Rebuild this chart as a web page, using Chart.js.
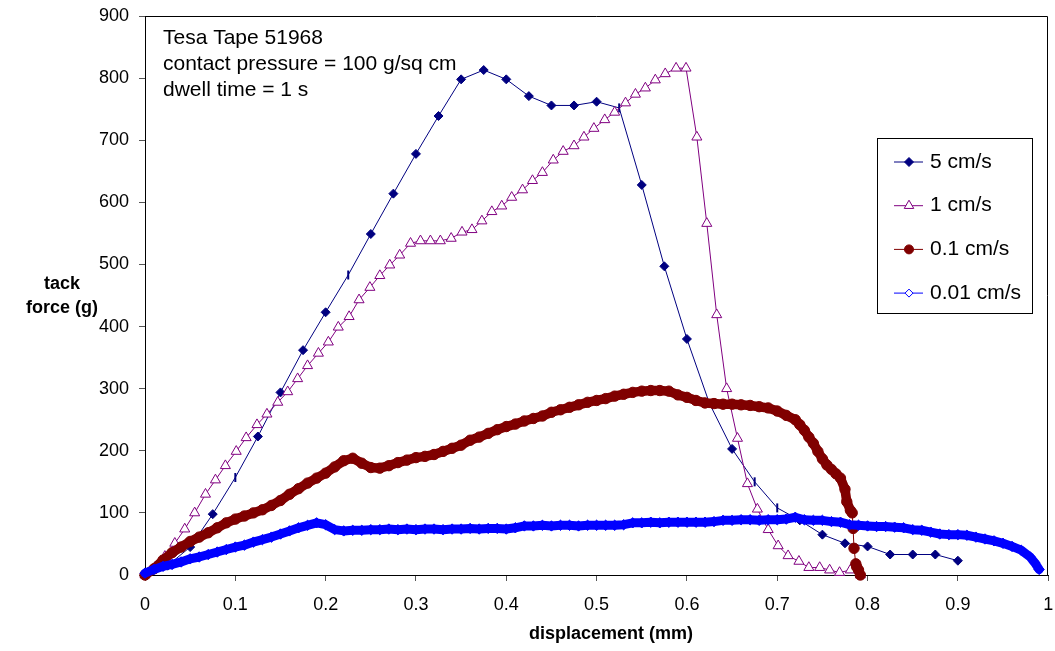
<!DOCTYPE html>
<html>
<head>
<meta charset="utf-8">
<title>Tesa Tape 51968 - tack force</title>
<script src="https://cdn.jsdelivr.net/npm/chart.js@4/dist/chart.umd.min.js"></script>
<style>
  html, body { margin: 0; padding: 0; background: #fff; }
  #wrap { width: 1055px; height: 651px; }
</style>
</head>
<body>
<div id="wrap"><canvas id="chart" width="1055" height="651"></canvas></div>
<script>
// ---- data ----
const xTickLabels = ['0', '0.1', '0.2', '0.3', '0.4', '0.5', '0.6', '0.7', '0.8', '0.9', '1'];
const yTickLabels = ['0', '100', '200', '300', '400', '500', '600', '700', '800', '900'];
const seriesNames = ['5 cm/s', '1 cm/s', '0.1 cm/s', '0.01 cm/s'];
const noteLines = ['Tesa Tape 51968', 'contact pressure = 100 g/sq cm', 'dwell time = 1 s'];
const xTitle = 'displacement (mm)';
const yTitle = ['tack', 'force (g)'];

// 5 cm/s
const fastX = [0, 0.025, 0.05, 0.075, 0.1, 0.125, 0.15, 0.175, 0.2, 0.225, 0.25, 0.275, 0.3, 0.325, 0.35, 0.375, 0.4, 0.425, 0.45, 0.475,
  0.5, 0.525, 0.55, 0.575, 0.6, 0.625, 0.65, 0.675, 0.7, 0.725, 0.75, 0.775, 0.8, 0.825, 0.85, 0.875, 0.9];
const fastY = [0, 15, 45, 98, 157, 223, 294, 362, 423, 483, 549, 614, 678, 739, 798, 813, 798, 771, 756, 756,
  762, 752, 628, 497, 380, 276, 203, 150, 108, 88, 65, 51, 46, 33, 33, 33, 23];
const fastBarIdx = [4, 9, 21, 27, 28]; // points drawn as a short vertical bar in the original

// 1 cm/s
const midX = [0, 0.011, 0.022, 0.033, 0.044, 0.055, 0.067, 0.078, 0.089, 0.101, 0.112, 0.124, 0.135, 0.147, 0.158, 0.169, 0.180, 0.192, 0.203, 0.214,
  0.226, 0.237, 0.249, 0.260, 0.271, 0.282, 0.294, 0.305, 0.316, 0.327, 0.339, 0.351, 0.362, 0.373, 0.384, 0.395, 0.406, 0.418, 0.429, 0.440,
  0.452, 0.463, 0.475, 0.486, 0.497, 0.509, 0.520, 0.532, 0.543, 0.554, 0.565, 0.576, 0.588, 0.599, 0.611, 0.622, 0.633, 0.644, 0.656, 0.667,
  0.678, 0.690, 0.701, 0.712, 0.724, 0.735, 0.747, 0.758, 0.769, 0.781, 0.792];
const midY = [0, 12, 30, 51, 74, 100, 130, 153, 176, 199, 221, 242, 259, 278, 295, 316, 337, 357, 375, 399,
  416, 443, 463, 482, 499, 515, 534, 538, 538, 538, 542, 552, 556, 570, 585, 594, 608, 620, 635, 648,
  668, 682, 691, 705, 719, 733, 745, 760, 774, 784, 797, 807, 816, 816, 705, 566, 419, 300, 220, 147,
  106, 73, 47, 31, 22, 12, 12, 8, 4, 8, 0];

// 0.1 cm/s
const slowX = [0, 0.01, 0.02, 0.03, 0.04, 0.05, 0.06, 0.07, 0.08, 0.09, 0.1, 0.11, 0.12, 0.13, 0.14, 0.15, 0.16, 0.17, 0.18, 0.19,
  0.2, 0.21, 0.22, 0.23, 0.24, 0.25, 0.26, 0.27, 0.28, 0.29, 0.3, 0.31, 0.32, 0.33, 0.34, 0.35, 0.36, 0.37, 0.38, 0.39,
  0.4, 0.41, 0.42, 0.43, 0.44, 0.45, 0.46, 0.47, 0.48, 0.49, 0.5, 0.51, 0.52, 0.53, 0.54, 0.55, 0.56, 0.57, 0.58, 0.59,
  0.6, 0.61, 0.62, 0.63, 0.64, 0.65, 0.66, 0.67, 0.68, 0.69, 0.7, 0.71, 0.72,
  0.725, 0.73, 0.735, 0.74, 0.745, 0.75, 0.755, 0.76, 0.765, 0.77,
  0.775, 0.777, 0.781, 0.783, 0.784, 0.785, 0.787, 0.788, 0.79, 0.792];
const slowY = [0, 10, 24, 36, 45, 54, 61, 68, 76, 84, 90, 95, 100, 105, 112, 120, 130, 139, 148, 156,
  164, 174, 184, 188, 180, 173, 172, 176, 181, 185, 189, 191, 194, 199, 204, 209, 217, 222, 228, 234,
  239, 243, 248, 252, 256, 262, 266, 270, 274, 278, 281, 284, 288, 291, 294, 296, 297, 297, 296, 290,
  286, 281, 277, 276, 275, 275, 274, 273, 271, 269, 264, 257, 250,
  242, 233, 222, 212, 199, 187, 177, 170, 163, 156,
  138, 118, 104, 100, 75, 43, 18, 13, 8, 0];

// 0.01 cm/s
const crawlX = [0, 0.01, 0.02, 0.03, 0.04, 0.05, 0.06, 0.07, 0.08, 0.09, 0.1, 0.11, 0.12, 0.13, 0.14, 0.15, 0.16, 0.17, 0.18, 0.19,
  0.2, 0.21, 0.22, 0.23, 0.24, 0.25, 0.26, 0.27, 0.28, 0.29, 0.3, 0.31, 0.32, 0.33, 0.34, 0.35, 0.36, 0.37, 0.38, 0.39,
  0.4, 0.41, 0.42, 0.43, 0.44, 0.45, 0.46, 0.47, 0.48, 0.49, 0.5, 0.51, 0.52, 0.53, 0.54, 0.55, 0.56, 0.57, 0.58, 0.59,
  0.6, 0.61, 0.62, 0.63, 0.64, 0.65, 0.66, 0.67, 0.68, 0.69, 0.7, 0.71, 0.72, 0.73, 0.74, 0.75, 0.76, 0.77, 0.78, 0.79,
  0.8, 0.81, 0.82, 0.83, 0.84, 0.85, 0.86, 0.87, 0.88, 0.89, 0.9, 0.91, 0.92, 0.93, 0.94, 0.95, 0.96, 0.97, 0.98, 0.985, 0.99];
const crawlY = [3, 9, 14, 17, 21, 26, 29, 33, 37, 41, 45, 48, 53, 57, 61, 66, 71, 76, 80, 84,
  81, 73, 71, 72, 72, 73, 73, 74, 73, 74, 73, 74, 74, 73, 74, 74, 75, 74, 75, 75,
  74, 76, 79, 79, 80, 79, 80, 80, 79, 80, 80, 80, 80, 81, 84, 84, 85, 84, 85, 85,
  85, 85, 85, 86, 88, 88, 89, 89, 88, 89, 89, 90, 93, 89, 88, 88, 86, 85, 81, 80,
  79, 78, 78, 77, 76, 73, 72, 69, 66, 65, 65, 64, 61, 58, 55, 51, 46, 40, 29, 20, 9];

// ---- helpers ----
const FONT = '"Liberation Sans", Arial, Helvetica, sans-serif';
const pts = (xs, ys) => xs.map((x, i) => ({ x: x, y: ys[i] }));
// where points sit close together the markers merge into a band, mimic that with a fat segment
const bandWidth = w => ctx => Math.hypot(ctx.p1.x - ctx.p0.x, ctx.p1.y - ctx.p0.y) < 15 ? w : 1;

function marker(c, style, x, y, r, fill, stroke) {
  c.beginPath();
  if (style === 'rectRot') {
    c.moveTo(x, y - r); c.lineTo(x + r, y); c.lineTo(x, y + r); c.lineTo(x - r, y); c.closePath();
  } else if (style === 'triangle') {
    for (let k = 0; k < 3; k++) {
      const a = k * 2 * Math.PI / 3;
      const px = x + Math.sin(a) * r, py = y - Math.cos(a) * r;
      k ? c.lineTo(px, py) : c.moveTo(px, py);
    }
    c.closePath();
  } else {
    c.arc(x, y, r, 0, Math.PI * 2);
  }
  c.fillStyle = fill; c.fill();
  c.lineWidth = 1; c.strokeStyle = stroke; c.stroke();
}

const legendStyles = [
  { style: 'rectRot', r: 4.5, fill: '#000080', stroke: '#000080' },
  { style: 'triangle', r: 5.5, fill: '#fff', stroke: '#800080' },
  { style: 'circle', r: 4.5, fill: '#800000', stroke: '#800000' },
  { style: 'rectRot', r: 4, fill: '#fff', stroke: '#0000ff' }
];

const decor = {
  id: 'decor',
  afterDraw(chart) {
    const c = chart.ctx, a = chart.chartArea;
    c.save();
    // plot box, top and right edges
    c.strokeStyle = '#000'; c.lineWidth = 1;
    c.beginPath();
    c.moveTo(a.left, a.top + 0.5);
    c.lineTo(Math.round(a.right) - 0.5, a.top + 0.5);
    c.lineTo(Math.round(a.right) - 0.5, a.bottom);
    c.stroke();

    c.fillStyle = '#000';
    c.textBaseline = 'middle';

    // note in the top left
    c.font = '21px ' + FONT;
    c.textAlign = 'left';
    noteLines.forEach((t, i) => c.fillText(t, 163, 38 + i * 26));

    // axis titles
    c.font = 'bold 18px ' + FONT;
    c.textAlign = 'center';
    c.fillText(yTitle[0], 62, 284);
    c.fillText(yTitle[1], 62, 308);
    c.fillText(xTitle, 611, 634);

    // legend
    const lx = 877.5, ly = 138.5, lw = 155, lh = 175;
    c.fillStyle = '#fff';
    c.fillRect(lx, ly, lw, lh);
    c.strokeStyle = '#000';
    c.strokeRect(lx, ly, lw, lh);
    chart.data.datasets.forEach((ds, i) => {
      const y = 162 + i * 43.7;
      const s = legendStyles[i];
      c.strokeStyle = ds.borderColor; c.lineWidth = 1;
      c.beginPath(); c.moveTo(894, y); c.lineTo(923, y); c.stroke();
      marker(c, s.style, 909, y, s.r, s.fill, s.stroke);
      c.fillStyle = '#000';
      c.font = '21px ' + FONT;
      c.textAlign = 'left';
      c.fillText(ds.label, 930, y);
    });
    c.restore();
  }
};

const tickFont = { family: FONT, size: 18 };

new Chart(document.getElementById('chart'), {
  type: 'scatter',
  data: {
    datasets: [
      {
        label: seriesNames[0], data: pts(fastX, fastY), showLine: true, order: 4, clip: false,
        borderColor: '#000080', backgroundColor: '#000080', borderWidth: 1,
        pointStyle: ctx => fastBarIdx.includes(ctx.dataIndex) ? 'line' : 'rectRot',
        rotation: ctx => fastBarIdx.includes(ctx.dataIndex) ? 90 : 0,
        pointBorderWidth: ctx => fastBarIdx.includes(ctx.dataIndex) ? 2 : 1,
        pointRadius: 4.5
      },
      {
        label: seriesNames[1], data: pts(midX, midY), showLine: true, order: 3, clip: false,
        borderColor: '#800080', backgroundColor: '#800080', borderWidth: 1,
        pointStyle: 'triangle', pointRadius: 5.8,
        pointBackgroundColor: '#fff', pointBorderColor: '#800080', pointBorderWidth: 1
      },
      {
        label: seriesNames[2], data: pts(slowX, slowY), showLine: true, order: 2, clip: false,
        borderColor: '#800000', backgroundColor: '#800000', borderWidth: 1,
        borderCapStyle: 'round', borderJoinStyle: 'round',
        segment: { borderWidth: bandWidth(9.5) },
        pointStyle: 'circle', pointRadius: 5.2, pointBorderWidth: 1
      },
      {
        label: seriesNames[3], data: pts(crawlX, crawlY), showLine: true, order: 1, clip: false,
        borderColor: '#0000ff', backgroundColor: '#0000ff', borderWidth: 1,
        borderCapStyle: 'round', borderJoinStyle: 'round',
        segment: { borderWidth: bandWidth(9) },
        pointStyle: 'rectRot', pointRadius: 5.2, pointBorderWidth: 1
      }
    ]
  },
  options: {
    responsive: false,
    animation: false,
    devicePixelRatio: 1,
    layout: { padding: { top: 16, right: 5, left: 0, bottom: 0 } },
    plugins: { legend: { display: false }, tooltip: { enabled: false } },
    scales: {
      x: {
        type: 'linear', min: 0, max: 1,
        // fixed height, and no extra room for the end labels so the plot reaches the right edge
        afterFit: s => { s.height = 76; s.paddingLeft = 0; s.paddingRight = 0; },
        ticks: {
          stepSize: 0.1, autoSkip: false, maxRotation: 0, padding: 13,
          color: '#000', font: tickFont,
          callback: (v, i) => xTickLabels[i]
        },
        grid: { drawOnChartArea: false, drawTicks: true, tickLength: 6, color: '#555' },
        border: { display: true, color: '#000', width: 1 }
      },
      y: {
        type: 'linear', min: 0, max: 900,
        afterFit: s => { s.width = 145; s.paddingTop = 0; s.paddingBottom = 0; },
        ticks: {
          stepSize: 100, padding: 10,
          color: '#000', font: tickFont,
          callback: (v, i) => yTickLabels[i]
        },
        grid: { drawOnChartArea: false, drawTicks: true, tickLength: 6, color: '#555' },
        border: { display: true, color: '#000', width: 1 }
      }
    }
  },
  plugins: [decor]
});
</script>
</body>
</html>
